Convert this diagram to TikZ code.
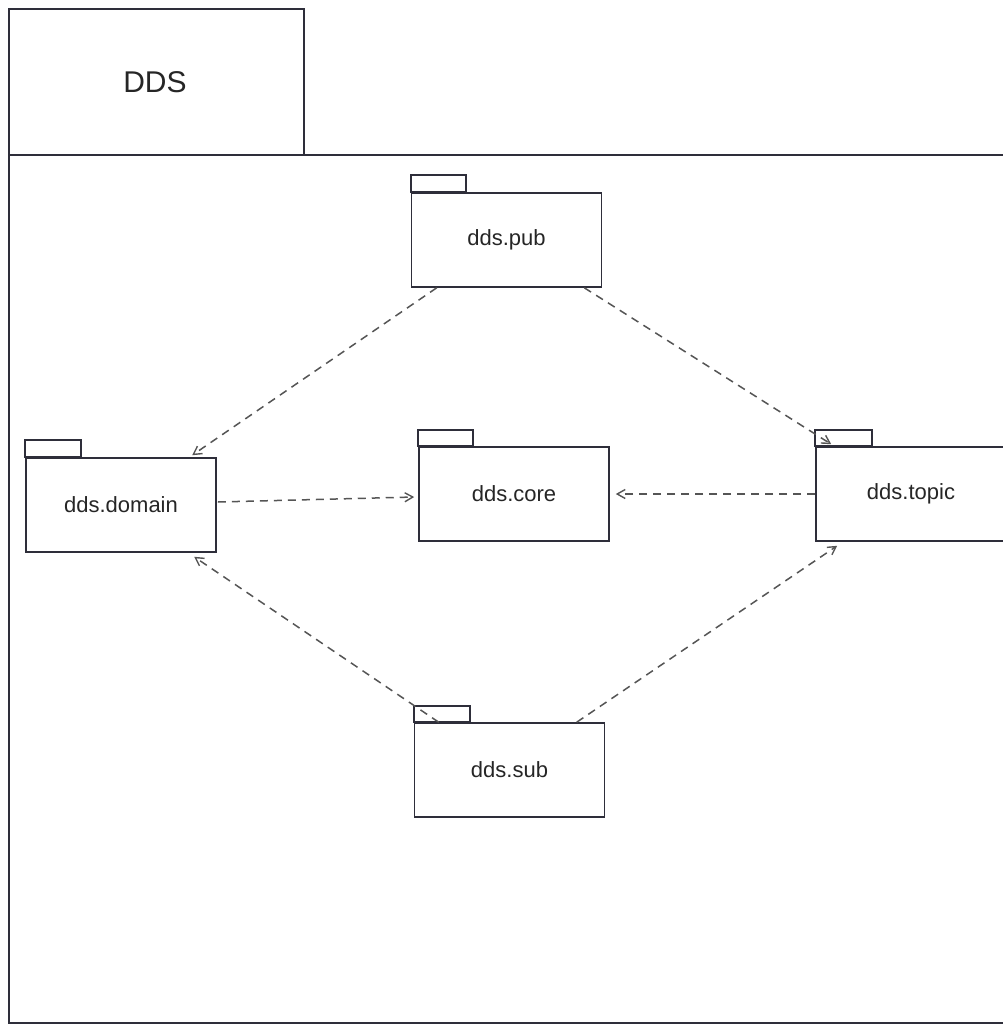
\documentclass[tikz,border=0pt]{standalone}
\usepackage{fontspec}
\setmainfont{Liberation Sans}
\usetikzlibrary{arrows.meta,calc}
\definecolor{edge}{HTML}{2E2E3A}
\definecolor{dep}{HTML}{555555}
\tikzset{
  pkgbody/.style={draw=edge, line width=1.6pt, fill=white, minimum width=190pt, minimum height=94pt, inner sep=0pt, font=\fontsize{22}{24}\selectfont, text=black!85},
  pkgtab/.style={draw=edge, line width=1.6pt, fill=white},
  depline/.style={draw=dep, line width=1.5pt, dash pattern=on 8pt off 6pt, -{Straight Barb[length=8pt,width=9pt,line width=1.4pt]}},
  frameline/.style={draw=edge, line width=1.7pt}
}
\begin{document}
\begin{tikzpicture}[x=1pt,y=-1pt]
\useasboundingbox (0,0) rectangle (1002,1026);
\fill[white] (0,0) rectangle (1002,1026);
% outer frame
\draw[frameline] (9,155) rectangle (1012,1023);
\draw[frameline, fill=white] (9,9) rectangle (304,155);
\node[font=\fontsize{30}{33}\selectfont, text=black!85] (ddslabel) at (155,82) {DDS};
% packages
\node[pkgbody] (pub) at (506.5,240) {dds.pub};
\draw[pkgtab] (pub.north west) rectangle ++(55,-17);
\node[pkgbody] (domain) at (121,505) {dds.domain};
\draw[pkgtab] (domain.north west) rectangle ++(56,-17);
\node[pkgbody] (core) at (514,494) {dds.core};
\draw[pkgtab] (core.north west) rectangle ++(55,-16);
\node[pkgbody] (topic) at (911,494) {dds.topic};
\draw[pkgtab] (topic.north west) rectangle ++(57,-16);
\node[pkgbody] (sub) at (509.5,770) {dds.sub};
\draw[pkgtab] (sub.north west) rectangle ++(56,-16);
% dependencies
\draw[depline] ($(pub.south west)+(26,0)$) -- ($(domain.north west)+(167,-2)$);
\draw[depline] ($(pub.south east)+(-18,0)$) -- ($(topic.north west)+(16,-2)$);
\draw[depline] ($(domain.east)+(1,-3)$) -- ($(core.west)+(-4,3)$);
\draw[depline] (topic.west) -- ($(core.east)+(6,0)$);
\draw[depline] ($(sub.north west)+(25,0)$) -- ($(domain.south west)+(169,4)$);
\draw[depline] ($(sub.north west)+(163,0)$) -- ($(topic.south west)+(22,4)$);
\end{tikzpicture}
\end{document}
